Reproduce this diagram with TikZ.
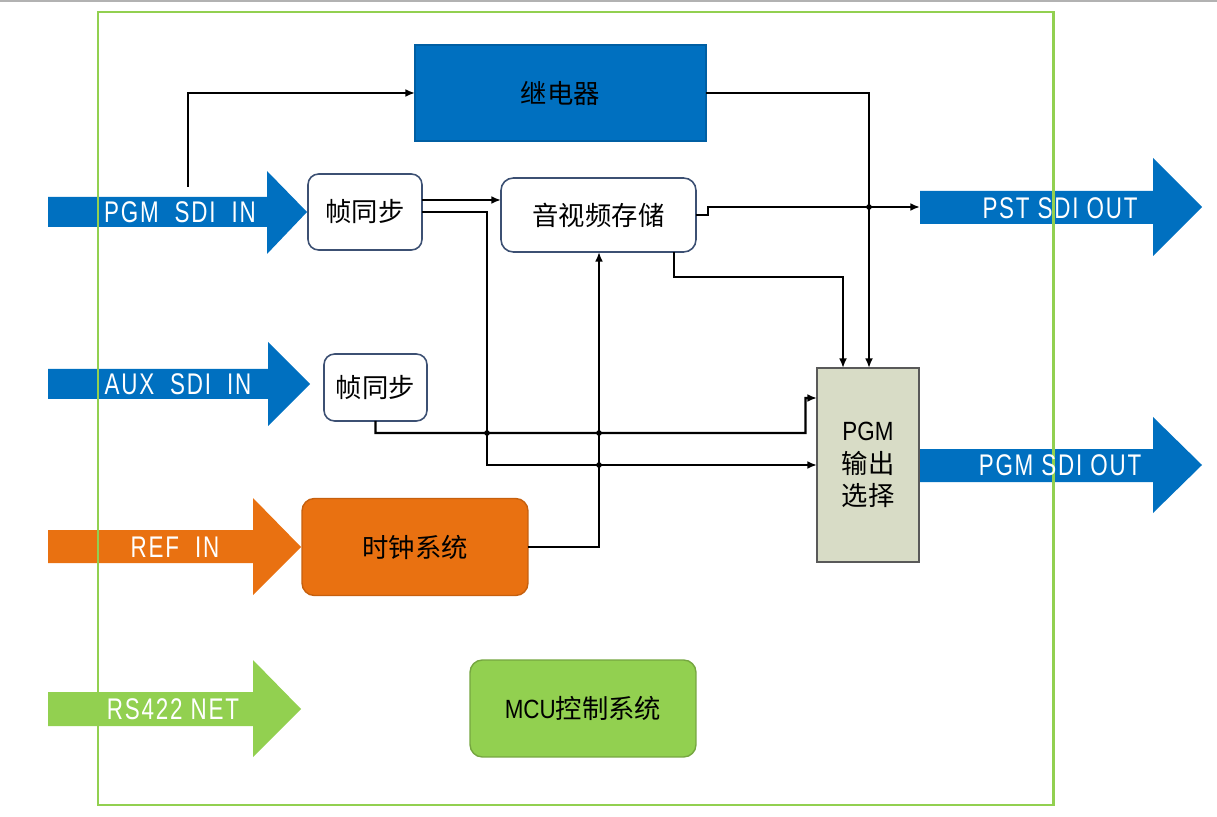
\documentclass[tikz,border=0pt]{standalone}
\usepackage{fontspec}
\setmainfont{Noto Sans CJK SC}
\newfontfamily\latinfont[FakeStretch=0.85]{Liberation Sans}
\newfontfamily\armfont[FakeStretch=0.75, LetterSpace=6]{Liberation Sans}
\usetikzlibrary{arrows.meta, calc}
\definecolor{sdiblue}{RGB}{0, 112, 192}
\definecolor{reforange}{RGB}{233, 113, 17}
\definecolor{netgreen}{RGB}{146, 208, 80}
\definecolor{selgray}{RGB}{216, 220, 198}
\definecolor{boxline}{RGB}{60, 80, 115}

\begin{document}
\begin{tikzpicture}[x=0.02cm, y=-0.02cm,
  conn/.style={draw=black, line width=1.4pt, -{Latex[length=5.5pt, width=4.5pt]}},
  syncbox/.style={draw=boxline, fill=white, rounded corners=6pt, line width=0.9pt, outer sep=0pt, font=\fontsize{15}{18}\selectfont},
  solidbox/.style={rounded corners=7pt, line width=0.8pt, outer sep=0pt, font=\fontsize{15}{18}\selectfont},
  armlabel/.style={text=white, inner sep=0pt, font=\armfont\fontsize{17}{19}\selectfont}
]
  \useasboundingbox (0,0) rectangle (1217,817);
  \draw[gray!60, line width=1pt] (0,1) -- (1217,1);

  % input arrows
  \fill[sdiblue] (48,197) -- (267,197) -- (267,171) -- (307,212) -- (267,254) -- (267,227) -- (48,227) -- cycle;
  \fill[sdiblue] (48,369) -- (268,369) -- (268,342) -- (310,384) -- (268,426) -- (268,399) -- (48,399) -- cycle;
  \fill[reforange] (48,530) -- (253,530) -- (253,498) -- (301,547) -- (253,595) -- (253,563) -- (48,563) -- cycle;
  \fill[netgreen] (48,692) -- (253,692) -- (253,660) -- (301,709) -- (253,757) -- (253,726) -- (48,726) -- cycle;

  % output arrows
  \fill[sdiblue] (920,191) -- (1153,191) -- (1153,158) -- (1202,207) -- (1153,256) -- (1153,224) -- (920,224) -- cycle;
  \fill[sdiblue] (919,449) -- (1153,449) -- (1153,417) -- (1202,465) -- (1153,513) -- (1153,482) -- (919,482) -- cycle;

  % board outline
  \draw[netgreen, line width=1.7pt] (98,12) rectangle (1053,805);

  \node[armlabel] (pgmin) at (180,212) {PGM\ \ SDI\ \ IN};
  \node[armlabel] (auxin) at (178,384) {AUX\ \ SDI\ \ IN};
  \node[armlabel] (refin) at (175,547) {REF\ \ IN};
  \node[armlabel] (rsnet) at (173,709) {RS422 NET};
  \node[armlabel] (pstout) at (1060,208) {PST SDI OUT};
  \node[armlabel] (pgmout) at (1060,465) {PGM SDI OUT};
  \coordinate (pgmtap) at (188,187);
  \coordinate (pstin) at (920,207);

  % blocks
  \node[solidbox, rounded corners=0pt, fill=sdiblue, draw=sdiblue!85!black, minimum width=5.82cm, minimum height=1.92cm] (relay) at (560.5,93) {继电器};
  \node[syncbox, minimum width=2.28cm, minimum height=1.52cm] (sync1) at (365,212) {帧同步};
  \node[syncbox, rounded corners=7pt, minimum width=3.9cm, minimum height=1.48cm] (avstore) at (598.5,215) {音视频存储};
  \node[syncbox, minimum width=2.06cm, minimum height=1.34cm] (sync2) at (375.5,387.5) {帧同步};
  \node[solidbox, fill=reforange, draw=reforange!85!black, minimum width=4.52cm, minimum height=1.94cm] (clock) at (415,547) {时钟系统};
  \node[solidbox, fill=netgreen, draw=netgreen!80!black, minimum width=4.52cm, minimum height=1.94cm] (mcu) at (583,708.5) {{\latinfont MCU}控制系统};
  \node[draw=gray!70!black, fill=selgray, line width=0.8pt, outer sep=0pt, minimum width=2.04cm, minimum height=3.88cm, align=center, font=\fontsize{15}{18.7}\selectfont] (outsel) at (868,465) {{\latinfont PGM}\\输出\\选择};

  % signal paths
  \draw[conn] (pgmtap) |- (relay.west);
  \draw[conn] (relay.east) -| (outsel.north -| 869,0);
  \draw[conn] (sync1.east |- 0,200) -- (avstore.west |- 0,200);
  \draw[conn] (sync1.east) -- ++(65,0) |- (outsel.west);
  \draw[conn] (avstore.east) -- ++(12,0) -- ++(0,-8) -- (pstin);
  \draw[conn] (avstore.south -| 674,0) -- ++(0,25) -| (outsel.north -| 843,0);
  \draw[conn] (clock.east) -| (avstore.south -| 599,0);
  \draw[conn] (sync2.south) -- ++(0,12) -- ++(430,0) -- ++(0,-35) -- (outsel.west |- 0,398);

  % crossing dots
  \foreach \p in {(869,207), (487,433), (599,433), (599,465)}
    \fill \p circle (1.6pt);
\end{tikzpicture}
\end{document}
